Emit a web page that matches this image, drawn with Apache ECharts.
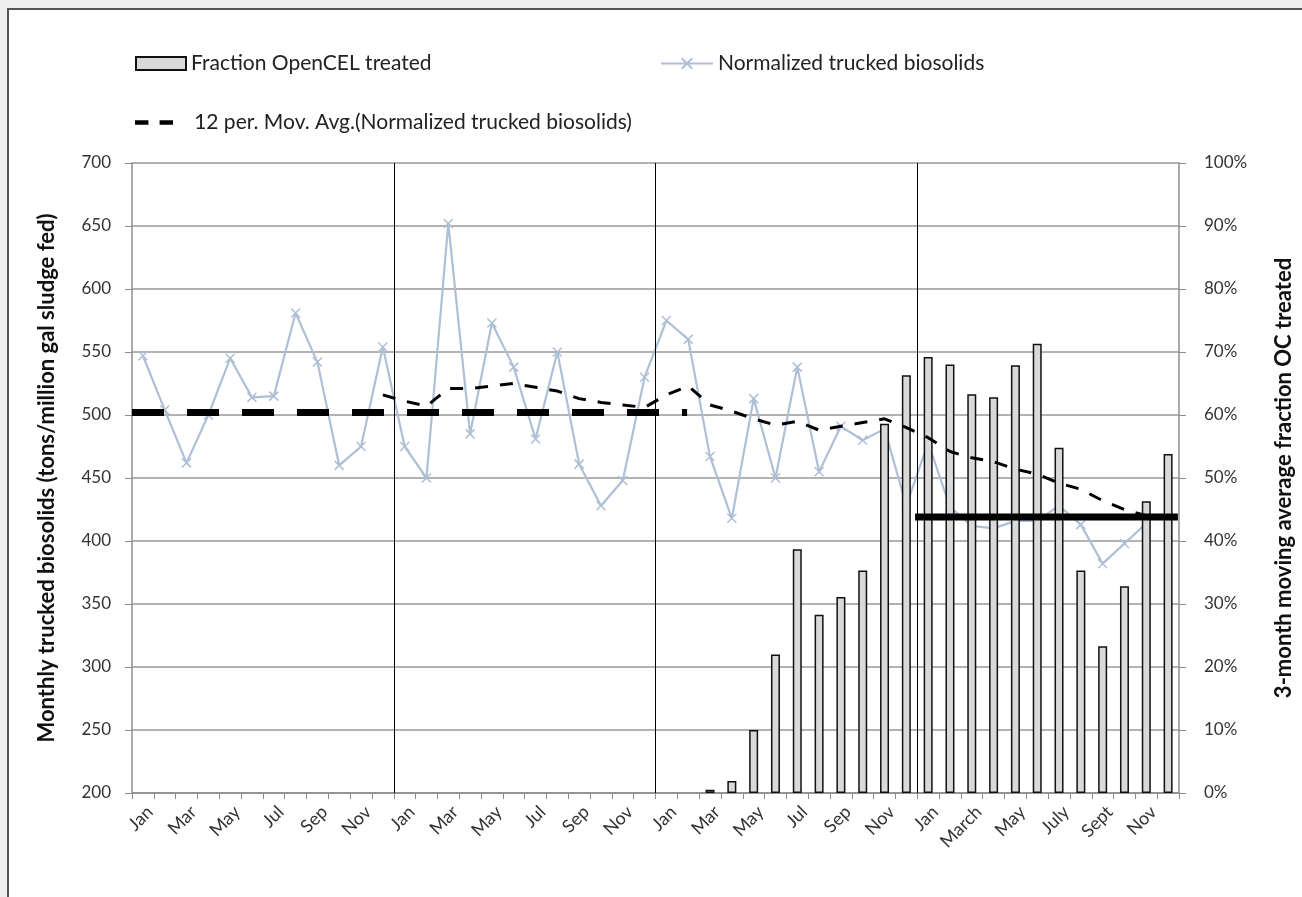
<!DOCTYPE html>
<html>
<head>
<meta charset="utf-8">
<script src="https://cdn.jsdelivr.net/npm/echarts@6/dist/echarts.min.js"></script>
<style>
  html, body { margin: 0; padding: 0; background: #efefef; }
  #chart { width: 1302px; height: 897px; }
</style>
</head>
<body>
<div id="chart"></div>
<script>
// ---- DATA ----
const months = [
  'Jan','Feb','Mar','Apr','May','Jun','Jul','Aug','Sep','Oct','Nov','Dec',
  'Jan','Feb','Mar','Apr','May','Jun','Jul','Aug','Sep','Oct','Nov','Dec',
  'Jan','Feb','Mar','Apr','May','Jun','Jul','Aug','Sep','Oct','Nov','Dec',
  'Jan','Feb','March','Apr','May','June','July','Aug','Sept','Oct','Nov','Dec'
];
// Normalized trucked biosolids (tons/million gal sludge fed)
const normalized = [
  547, 504, 462, 500, 545, 514, 515, 581, 542, 460, 475, 554,
  475, 450, 652, 485, 573, 538, 481, 550, 461, 428, 448, 530,
  575, 560, 467, 418, 513, 450, 538, 455, 491, 480, 489, 428,
  478, 427, 412, 410, 416, 416, 428, 413, 382, 398, 414, null
];
// 12 per. moving average
const movAvg = [
  null, null, null, null, null, null, null, null, null, null, null, 516,
  511, 507, 521, 521, 523, 525, 522, 519, 513, 510, 508, 506,
  516, 523, 508, 503, 497, 492, 495, 488, 491, 494, 497, 490,
  482, 471, 466, 463, 457, 453, 446, 441, 432, 425, 420, null
];
// Fraction OpenCEL treated (%), 3-month moving average
const fractionOC = [
  null, null, null, null, null, null, null, null, null, null, null, null,
  null, null, null, null, null, null, null, null, null, null, null, null,
  null, null, 0.5, 1.9, 10, 22, 38.7, 28.3, 31.1, 35.3, 58.6, 66.3,
  69.2, 68, 63.3, 62.8, 67.9, 71.3, 54.8, 35.3, 23.3, 32.8, 46.3, 53.8
];
// Reference levels
const baselineLevel = 502;   // first two years
const baselineSpan = [0, 25.45];
const treatedLevel = 419;    // last year
const treatedSpan = [35.9, 47.95];
const yearBreaks = [12, 24, 36];

const FONT = 'Lato, "Open Sans", sans-serif';
const xPath = 'path://M0,0L10,10M10,0L0,10';
const dashIcon = 'path://M0,0h12v4h-12zM22,0h12v4h-12z';

const chart = echarts.init(document.getElementById('chart'), null, { renderer: 'canvas' });

const legendText = { fontSize: 21, color: '#222', fontFamily: FONT };

const option = {
  backgroundColor: '#efefef',
  animation: false,
  textStyle: { fontFamily: FONT },
  graphic: [
    {
      type: 'rect', z: -10, silent: true,
      shape: { x: 8, y: 9, width: 1310, height: 900 },
      style: { fill: '#ffffff', stroke: '#555555', lineWidth: 2 }
    }
  ],
  legend: [
    {
      left: 135, top: 53, padding: 0, itemWidth: 50, itemHeight: 13,
      textStyle: legendText,
      data: [{ name: 'Fraction OpenCEL treated', icon: 'rect' }]
    },
    {
      left: 660, top: 53, padding: 0, itemWidth: 52, itemHeight: 13,
      textStyle: legendText,
      data: ['Normalized trucked biosolids']
    },
    {
      left: 135, top: 112, padding: 0, itemWidth: 38, itemHeight: 5,
      textStyle: legendText,
      formatter: name => '   ' + name,
      data: [{ name: '12 per. Mov. Avg.(Normalized trucked biosolids)', icon: dashIcon,
               itemStyle: { color: '#000', borderWidth: 0 } }]
    }
  ],
  grid: { left: 132, right: 123, top: 163, bottom: 104, containLabel: false, outerBoundsMode: 'none' },
  xAxis: [
    {
      type: 'category',
      data: months,
      boundaryGap: true,
      axisLine: { lineStyle: { color: '#8c8c8c', width: 1.5 } },
      axisTick: { show: true, interval: 0, length: 6, lineStyle: { color: '#8c8c8c' } },
      axisLabel: {
        interval: 0, rotate: 45, margin: 9, fontSize: 18, color: '#333',
        fontFamily: FONT, verticalAlign: 'top', lineHeight: 20,
        showMinLabel: true, showMaxLabel: true, hideOverlap: false,
        formatter: (value, index) => (index % 2 === 0 ? value : '')
      },
      splitLine: { show: false }
    },
    {
      type: 'value', min: 0, max: 48, show: false
    }
  ],
  yAxis: [
    {
      type: 'value', min: 200, max: 700, interval: 50, position: 'left',
      name: 'Monthly trucked biosolids (tons/million gal sludge fed)',
      nameLocation: 'middle', nameRotate: 90, nameGap: 74,
      nameTextStyle: { fontSize: 22, fontWeight: 'bold', color: '#111', fontFamily: FONT },
      axisLine: { show: true, lineStyle: { color: '#8c8c8c', width: 1.5 } },
      axisTick: { show: true, length: 7, lineStyle: { color: '#8c8c8c' } },
      axisLabel: { fontSize: 17, color: '#333', margin: 21, fontFamily: FONT },
      splitLine: { show: true, lineStyle: { color: '#999999', width: 1.5 } }
    },
    {
      type: 'value', min: 0, max: 100, interval: 10, position: 'right',
      name: '3-month moving average fraction OC treated',
      nameLocation: 'middle', nameRotate: 90, nameGap: 94,
      nameTextStyle: { fontSize: 22, fontWeight: 'bold', color: '#111', fontFamily: FONT },
      axisLine: { show: true, lineStyle: { color: '#8c8c8c', width: 1.5 } },
      axisTick: { show: true, length: 7, lineStyle: { color: '#8c8c8c' } },
      axisLabel: { fontSize: 17, color: '#333', margin: 25, formatter: '{value}%', fontFamily: FONT },
      splitLine: { show: false }
    }
  ],
  series: [
    {
      name: 'Normalized trucked biosolids',
      type: 'line',
      data: normalized,
      xAxisIndex: 0, yAxisIndex: 0,
      symbol: xPath, symbolSize: 9,
      lineStyle: { color: '#aebfd6', width: 2.2 },
      itemStyle: { color: 'rgba(0,0,0,0)', borderColor: '#aebfd6', borderWidth: 1.5 },
      connectNulls: false,
      z: 2
    },
    {
      name: 'Fraction OpenCEL treated',
      type: 'bar',
      data: fractionOC,
      xAxisIndex: 0, yAxisIndex: 1,
      barWidth: 9,
      itemStyle: { color: '#d9d9d9', borderColor: '#111', borderWidth: 1.5 },
      z: 3
    },
    {
      name: '12 per. Mov. Avg.(Normalized trucked biosolids)',
      type: 'line',
      data: movAvg,
      xAxisIndex: 0, yAxisIndex: 0,
      symbol: 'none',
      lineStyle: { color: '#000', width: 3, type: [13, 12] },
      itemStyle: { color: '#000' },
      z: 4
    },
    {
      name: 'baseline',
      type: 'line',
      xAxisIndex: 1, yAxisIndex: 0,
      data: [[baselineSpan[0], baselineLevel], [baselineSpan[1], baselineLevel]],
      symbol: 'none',
      lineStyle: { color: '#000', width: 7, type: [32, 23], cap: 'butt' },
      z: 5,
      markLine: {
        silent: true, symbol: 'none', label: { show: false },
        lineStyle: { color: '#000', width: 1, type: 'solid' },
        data: yearBreaks.map(v => ({ xAxis: v }))
      }
    },
    {
      name: 'treated',
      type: 'line',
      xAxisIndex: 1, yAxisIndex: 0,
      data: [[treatedSpan[0], treatedLevel], [treatedSpan[1], treatedLevel]],
      symbol: 'none',
      lineStyle: { color: '#000', width: 7, type: 'solid', cap: 'butt' },
      z: 5
    }
  ]
};

chart.setOption(option);
</script>
</body>
</html>
